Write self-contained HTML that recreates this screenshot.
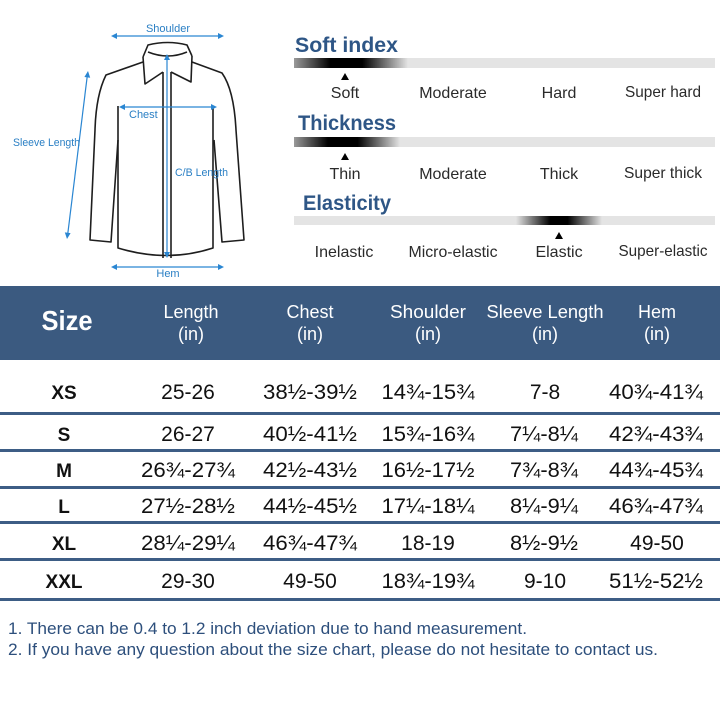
<!DOCTYPE html>
<html><head><meta charset="utf-8"><style>
html,body{margin:0;padding:0;background:#fff;}
svg{display:block;}
</style></head><body>
<svg width="720" height="723" viewBox="0 0 720 723" xmlns="http://www.w3.org/2000/svg" font-family="'Liberation Sans', sans-serif">
<defs>
<linearGradient id="g1" x1="0" x2="1" y1="0" y2="0">
<stop offset="0" stop-color="#9a9a9a"/><stop offset="0.32" stop-color="#000"/><stop offset="0.6" stop-color="#000"/><stop offset="1" stop-color="#e4e4e4"/>
</linearGradient>
<linearGradient id="g3" x1="0" x2="1" y1="0" y2="0">
<stop offset="0" stop-color="#e4e4e4"/><stop offset="0.4" stop-color="#000"/><stop offset="0.6" stop-color="#000"/><stop offset="1" stop-color="#e4e4e4"/>
</linearGradient>
</defs>
<rect width="720" height="723" fill="#fff"/>

<!-- Shirt -->
<g fill="none" stroke="#1e1e1e" stroke-width="1.6" stroke-linejoin="round">
  <path d="M143,57 L148,45 Q168,40 187,45 L192,56"/>
  <path d="M148,52 Q168,60 187,52"/>
  <path d="M143,57 L145,84 L163,72"/>
  <path d="M192,56 L191,82 L171,72"/>
  <path d="M143,62 L106,75 Q96,95 95,130 L90,240 L111,242 L118,140"/>
  <path d="M192,62 L222,73 Q234,90 236,130 L244,240 L222,242 L214,140"/>
  <path d="M118,106 L118,248 Q167,263 213,248 L213,106"/>
  <path d="M163,72 L163,258"/>
  <path d="M171,72 L171,258"/>
</g>
<g stroke="#2a86d2" stroke-width="1.2" fill="#2a86d2">
  <line x1="113" y1="36" x2="222" y2="36"/>
  <path d="M111,36 l6,-3 v6 z M224,36 l-6,-3 v6 z" stroke="none"/>
  <line x1="121" y1="107" x2="215" y2="107"/>
  <path d="M119,107 l6,-3 v6 z M217,107 l-6,-3 v6 z" stroke="none"/>
  <line x1="113" y1="267" x2="222" y2="267"/>
  <path d="M111,267 l6,-3 v6 z M224,267 l-6,-3 v6 z" stroke="none"/>
  <line x1="167" y1="57" x2="167" y2="255"/>
  <path d="M167,54 l-3,6 h6 z M167,258 l-3,-6 h6 z" stroke="none"/>
  <line x1="87.5" y1="74" x2="67.5" y2="236"/>
  <path d="M88,71 l-3.6,6 l5.8,0.7 z M67,239 l-2.2,-6.6 l5.8,0.7 z" stroke="none"/>
</g>
<g fill="#2a7fc4" font-size="11">
  <text x="168" y="32" text-anchor="middle">Shoulder</text>
  <text x="129" y="118">Chest</text>
  <text x="13" y="146" textLength="67" lengthAdjust="spacingAndGlyphs">Sleeve Length</text>
  <text x="175" y="176" textLength="53" lengthAdjust="spacingAndGlyphs">C/B Length</text>
  <text x="168" y="277" text-anchor="middle">Hem</text>
</g>

<!-- Indices -->
<g fill="#2e5686" font-weight="bold" font-size="21">
  <text x="295" y="52" textLength="103" lengthAdjust="spacingAndGlyphs">Soft index</text>
  <text x="298" y="130" textLength="98" lengthAdjust="spacingAndGlyphs">Thickness</text>
  <text x="303" y="210" textLength="88" lengthAdjust="spacingAndGlyphs">Elasticity</text>
</g>
<rect x="294" y="58" width="421" height="10" fill="#e4e4e4"/>
<rect x="294" y="58" width="114" height="10" fill="url(#g1)"/>
<rect x="294" y="137" width="421" height="10" fill="#e4e4e4"/>
<rect x="294" y="137" width="106" height="10" fill="url(#g1)"/>
<rect x="294" y="216" width="421" height="9" fill="#e4e4e4"/>
<rect x="516" y="216" width="86" height="9" fill="url(#g3)"/>
<path d="M345,73 l-4,7 h8 z M345,153 l-4,7 h8 z M559,232 l-4,7 h8 z" fill="#000"/>
<g fill="#2a2a2a" font-size="16" text-anchor="middle">
  <text x="345" y="98">Soft</text>
  <text x="453" y="98">Moderate</text>
  <text x="559" y="98">Hard</text>
  <text x="663" y="97" textLength="76" lengthAdjust="spacingAndGlyphs">Super hard</text>
  <text x="345" y="179">Thin</text>
  <text x="453" y="179">Moderate</text>
  <text x="559" y="179">Thick</text>
  <text x="663" y="178" textLength="78" lengthAdjust="spacingAndGlyphs">Super thick</text>
  <text x="344" y="257">Inelastic</text>
  <text x="453" y="257" textLength="89" lengthAdjust="spacingAndGlyphs">Micro-elastic</text>
  <text x="559" y="257">Elastic</text>
  <text x="663" y="256" textLength="89" lengthAdjust="spacingAndGlyphs">Super-elastic</text>
</g>

<!-- Table header -->
<rect x="0" y="286" width="720" height="74" fill="#3b5a80"/>
<text x="67" y="330" fill="#fff" font-weight="bold" font-size="28" text-anchor="middle" textLength="51" lengthAdjust="spacingAndGlyphs">Size</text>
<g fill="#fff" font-size="18" text-anchor="middle">
  <text x="191" y="318">Length</text><text x="191" y="340">(in)</text>
  <text x="310" y="318">Chest</text><text x="310" y="340">(in)</text>
  <text x="428" y="318" textLength="76" lengthAdjust="spacingAndGlyphs">Shoulder</text><text x="428" y="340">(in)</text>
  <text x="545" y="318" textLength="117" lengthAdjust="spacingAndGlyphs">Sleeve Length</text><text x="545" y="340">(in)</text>
  <text x="657" y="318">Hem</text><text x="657" y="340">(in)</text>
</g>

<!-- separators -->
<g fill="#3d5d85">
  <rect x="0" y="412" width="720" height="3"/>
  <rect x="0" y="449" width="720" height="3"/>
  <rect x="0" y="486" width="720" height="3"/>
  <rect x="0" y="521" width="720" height="3"/>
  <rect x="0" y="558" width="720" height="3"/>
  <rect x="0" y="598" width="720" height="3"/>
</g>

<!-- Table data -->
<g fill="#111" font-weight="bold" font-size="19" text-anchor="middle">
  <text x="64" y="399">XS</text>
  <text x="64" y="441">S</text>
  <text x="64" y="477">M</text>
  <text x="64" y="513">L</text>
  <text x="64" y="550">XL</text>
  <text x="64" y="588">XXL</text>
</g>
<g fill="#111" font-size="21" text-anchor="middle">
  <text x="188" y="399">25-26</text>
  <text x="310" y="399" textLength="94" lengthAdjust="spacingAndGlyphs">38½-39½</text>
  <text x="428" y="399" textLength="93" lengthAdjust="spacingAndGlyphs">14¾-15¾</text>
  <text x="545" y="399">7-8</text>
  <text x="656" y="399" textLength="94" lengthAdjust="spacingAndGlyphs">40¾-41¾</text>

  <text x="188" y="441">26-27</text>
  <text x="310" y="441" textLength="94" lengthAdjust="spacingAndGlyphs">40½-41½</text>
  <text x="428" y="441" textLength="93" lengthAdjust="spacingAndGlyphs">15¾-16¾</text>
  <text x="544" y="441" textLength="68" lengthAdjust="spacingAndGlyphs">7¼-8¼</text>
  <text x="656" y="441" textLength="94" lengthAdjust="spacingAndGlyphs">42¾-43¾</text>

  <text x="188" y="477" textLength="94" lengthAdjust="spacingAndGlyphs">26¾-27¾</text>
  <text x="310" y="477" textLength="94" lengthAdjust="spacingAndGlyphs">42½-43½</text>
  <text x="428" y="477" textLength="93" lengthAdjust="spacingAndGlyphs">16½-17½</text>
  <text x="544" y="477" textLength="68" lengthAdjust="spacingAndGlyphs">7¾-8¾</text>
  <text x="656" y="477" textLength="94" lengthAdjust="spacingAndGlyphs">44¾-45¾</text>

  <text x="188" y="513" textLength="94" lengthAdjust="spacingAndGlyphs">27½-28½</text>
  <text x="310" y="513" textLength="94" lengthAdjust="spacingAndGlyphs">44½-45½</text>
  <text x="428" y="513" textLength="93" lengthAdjust="spacingAndGlyphs">17¼-18¼</text>
  <text x="544" y="513" textLength="68" lengthAdjust="spacingAndGlyphs">8¼-9¼</text>
  <text x="656" y="513" textLength="94" lengthAdjust="spacingAndGlyphs">46¾-47¾</text>

  <text x="188" y="550" textLength="94" lengthAdjust="spacingAndGlyphs">28¼-29¼</text>
  <text x="310" y="550" textLength="94" lengthAdjust="spacingAndGlyphs">46¾-47¾</text>
  <text x="428" y="550">18-19</text>
  <text x="544" y="550" textLength="68" lengthAdjust="spacingAndGlyphs">8½-9½</text>
  <text x="657" y="550">49-50</text>

  <text x="188" y="588">29-30</text>
  <text x="310" y="588">49-50</text>
  <text x="428" y="588" textLength="93" lengthAdjust="spacingAndGlyphs">18¾-19¾</text>
  <text x="545" y="588">9-10</text>
  <text x="656" y="588" textLength="94" lengthAdjust="spacingAndGlyphs">51½-52½</text>
</g>

<!-- notes -->
<g fill="#2d4f7c" font-size="17">
  <text x="8" y="634" textLength="519" lengthAdjust="spacingAndGlyphs">1. There can be 0.4 to 1.2 inch deviation due to hand measurement.</text>
  <text x="8" y="655" textLength="650" lengthAdjust="spacingAndGlyphs">2. If you have any question about the size chart, please do not hesitate to contact us.</text>
</g>
</svg>
</body></html>
